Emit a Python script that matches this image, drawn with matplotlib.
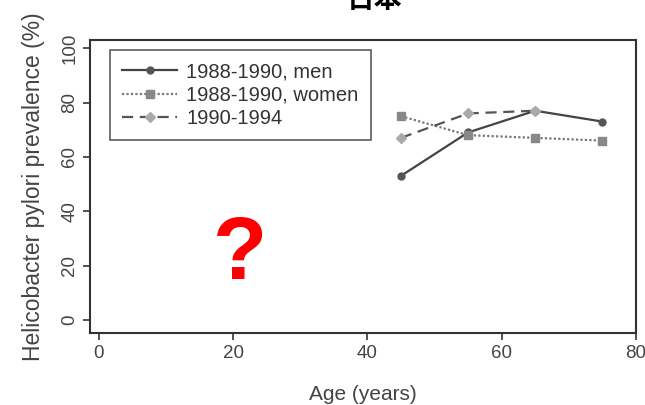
import matplotlib.pyplot as plt

# Data
ages_men = [45, 55, 65, 75]
prev_men = [53, 69, 77, 73]

ages_women = [45, 55, 65, 75]
prev_women = [75, 68, 67, 66]

ages_9094 = [45, 55, 65]
prev_9094 = [67, 76, 77]

x_ticks = [0, 20, 40, 60, 80]
y_ticks = [0, 20, 40, 60, 80, 100]

plt.rcParams['font.family'] = ['Liberation Sans', 'Noto Sans CJK JP', 'DejaVu Sans']

fig = plt.figure(figsize=(6.45, 4.05), dpi=100)
ax = fig.add_axes([0.1395, 0.178, 0.8465, 0.723])

ax.plot(ages_men, prev_men, color="#444444", linestyle="-", linewidth=1.6,
        marker="o", markersize=5, markerfacecolor="#555555", markeredgecolor="#555555",
        label="1988-1990, men")
ax.plot(ages_women, prev_women, color="#777777", linestyle=(0, (1, 1)), linewidth=1.6,
        marker="s", markersize=5.5, markerfacecolor="#888888", markeredgecolor="#888888",
        label="1988-1990, women")
ax.plot(ages_9094, prev_9094, color="#555555", linestyle=(0, (5, 3)), linewidth=1.6,
        marker="D", markersize=5.5, markerfacecolor="#aaaaaa", markeredgecolor="#aaaaaa",
        label="1990-1994")

ax.set_xlim(-1.3, 80)
ax.set_ylim(-4.8, 103)
ax.set_xticks(x_ticks)
ax.set_yticks(y_ticks)
ax.tick_params(axis="both", direction="out", length=5, width=1.2, colors="#333333",
               labelsize=13.5, labelcolor="#444444")
plt.setp(ax.get_yticklabels(), rotation=90, va="center")

for s in ax.spines.values():
    s.set_color("#333333")
    s.set_linewidth(1.5)

ax.set_xlabel("Age (years)", fontsize=15, color="#444444", labelpad=17)
ax.set_ylabel("Helicobacter pylori prevalence (%)", fontsize=16.5, color="#444444", labelpad=12)

leg = ax.legend(loc="upper left", bbox_to_anchor=(0.0366, 0.966), borderaxespad=0,
                fontsize=14.5, frameon=True, fancybox=False, edgecolor="#333333",
                labelspacing=0.22, handlelength=2.75, borderpad=0.6, handletextpad=0.45)
leg.get_frame().set_linewidth(1.2)
for t in leg.get_texts():
    t.set_color("#333333")

ax.text(21.0, 23.5, "?", color="#ff0000", fontsize=64, fontweight="bold",
        ha="center", va="center")

fig.text(0.58, 1.0, "日本", fontsize=20, fontweight="bold", ha="center", va="center",
         family=["Noto Sans CJK JP", "DejaVu Sans"])

fig.savefig("out.png", dpi=100)
